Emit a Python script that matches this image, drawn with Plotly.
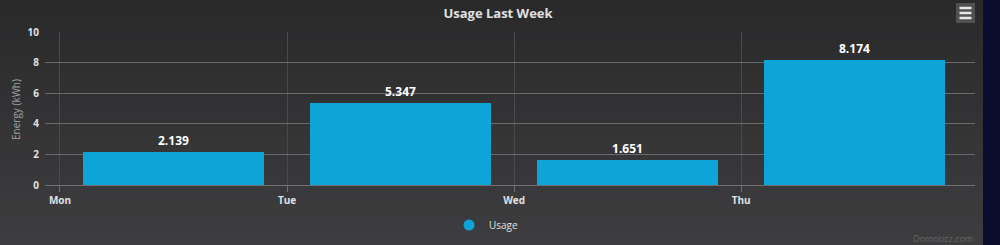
import plotly.graph_objects as go

days = ["Mon", "Tue", "Wed", "Thu"]
day_pos = [0, 1, 2, 3]
bar_pos = [0.5, 1.5, 2.5, 3.5]
usage = [2.139, 5.347, 1.651, 8.174]
labels = ["2.139", "5.347", "1.651", "8.174"]

FONT = "Open Sans"
fig = go.Figure()

fig.add_trace(go.Bar(
    x=bar_pos, y=usage, width=0.8,
    marker=dict(color="#0ea4d8", line=dict(width=0)),
    text=labels, textposition="outside", cliponaxis=False,
    textfont=dict(family=FONT, size=12, color="#ffffff", weight="bold"),
    showlegend=False, name="Usage", hoverinfo="x+y",
))
fig.add_trace(go.Scatter(
    x=[None], y=[None], mode="markers", name="Usage",
    marker=dict(symbol="circle", size=11, color="#0ea4d8"),
))

def px(x):
    return (x - 45) / 930
def py(y):
    return (185 - y) / 153

# background gradient bands
shapes = []
n = 24
c0 = (0x2a, 0x2a, 0x2b)
c1 = (0x3d, 0x3d, 0x3f)
for i in range(n):
    t = i / (n - 1)
    col = tuple(int(round(c0[k] + (c1[k] - c0[k]) * t)) for k in range(3))
    ytop = i * 245 / n
    ybot = (i + 1) * 245 / n + 1
    shapes.append(dict(type="rect", xref="paper", yref="paper", layer="below",
                       x0=-1, x1=2, y0=py(ybot), y1=py(ytop) if i else 2,
                       fillcolor="rgb(%d,%d,%d)" % col, line=dict(width=0)))
# right navy strip
shapes.append(dict(type="rect", xref="paper", yref="paper", layer="below",
                   x0=px(983), x1=px(1010), y0=-2, y1=2,
                   fillcolor="#0b0d2c", line=dict(width=0)))
# menu button
bx0, bx1, by0, by1 = 956, 975, 3, 23
shapes.append(dict(type="rect", xref="paper", yref="paper",
                   x0=px(bx0), x1=px(bx1), y0=py(by1), y1=py(by0),
                   fillcolor="#505053", line=dict(width=0)))
for yy in [8, 13, 18]:
    shapes.append(dict(type="line", xref="paper", yref="paper",
                       x0=px(959.5), x1=px(971.5), y0=py(yy), y1=py(yy),
                       line=dict(color="#e6e6e6", width=2.5)))

fig.update_layout(
    width=1000, height=245,
    margin=dict(l=45, r=25, t=32, b=60, autoexpand=False),
    paper_bgcolor="#313133", plot_bgcolor="rgba(0,0,0,0)",
    font=dict(family=FONT, color="#e0e0e3"),
    title=dict(text="<b>Usage Last Week</b>", x=0.498, xanchor="center",
               y=(245 - 13) / 245, yanchor="middle", yref="container",
               font=dict(size=13, color="#e0e0e3", family=FONT)),
    xaxis=dict(range=[-0.066, 4.03], tickvals=day_pos, ticktext=days,
               showgrid=True, gridcolor="#4a4a4d", gridwidth=1,
               showline=True, linecolor="#707073", linewidth=1,
               ticks="outside", ticklen=6, tickcolor="#707073",
               tickfont=dict(size=10, color="#e0e0e3", weight="bold"),
               zeroline=False, fixedrange=True, automargin=False),
    yaxis=dict(range=[0, 10], tickvals=[0, 2, 4, 6, 8, 10],
               showgrid=True, gridcolor="#6a6a6d", gridwidth=1,
               zeroline=False, ticks="", ticklabelstandoff=5,
               tickfont=dict(size=10, color="#e0e0e3", weight="bold"),
               fixedrange=True, automargin=False),
    legend=dict(orientation="h", x=px(449), xanchor="left",
                yref="container", y=(245 - 225) / 245, yanchor="middle",
                font=dict(size=10, color="#e0e0e3"),
                bgcolor="rgba(0,0,0,0)", itemwidth=30),
    shapes=shapes,
    annotations=[
        dict(text="Energy (kWh)", xref="paper", yref="paper",
             x=px(16), y=py(110), xanchor="center", yanchor="middle",
             textangle=-90, showarrow=False,
             font=dict(size=10, color="#a0a0a3")),
        dict(text="Domoticz.com", xref="paper", yref="paper",
             x=px(975), y=py(238), xanchor="right", yanchor="middle",
             showarrow=False, font=dict(size=9, color="#666669")),
    ],
    bargap=0,
)

fig.write_html("out.html")
